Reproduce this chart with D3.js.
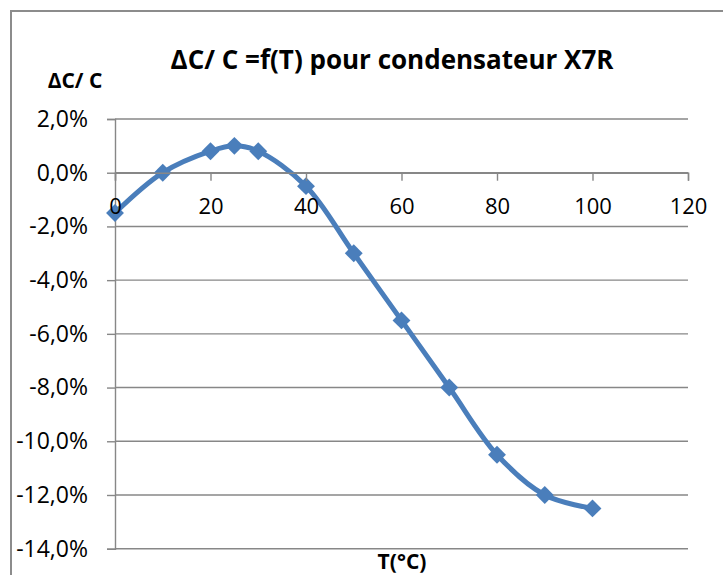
<!DOCTYPE html>
<html>
<head>
<meta charset="utf-8">
<script src="https://cdn.jsdelivr.net/npm/d3@7"></script>
<style>
  html, body { margin: 0; padding: 0; background: #fff; }
  svg { display: block; }
  text { font-family: "Open Sans", "Liberation Sans", sans-serif; fill: #000; }
</style>
</head>
<body>
<svg id="chart" width="723" height="575"></svg>
<script>
// Temperature (°C) and relative capacitance drift ΔC/C for an X7R capacitor
const temperatures = [0, 10, 20, 25, 30, 40, 50, 60, 70, 80, 90, 100];
const deltaC = [-0.015, 0.0, 0.008, 0.010, 0.008, -0.005, -0.030, -0.055, -0.080, -0.105, -0.120, -0.125];
const xTicks = [0, 20, 40, 60, 80, 100, 120];
const yTicks = [0.02, 0.0, -0.02, -0.04, -0.06, -0.08, -0.10, -0.12, -0.14];

const titleText = "ΔC/ C =f(T) pour condensateur X7R";
const yTitle = "ΔC/ C";
const xTitle = "T(°C)";

const svg = d3.select("#chart");
const gridColor = "#878787";
const lineColor = "#4a7ebb";

const x = d3.scaleLinear().domain([0, 120]).range([115, 688]);
const y = d3.scaleLinear().domain([-0.14, 0.02]).range([548.7, 119]);

const fmtPct = v => (v * 100).toFixed(1).replace(".", ",").replace("-0,0", "0,0") + "%";

// chart frame (only top and left edges fall inside the page)
svg.append("path")
  .attr("d", "M11,575 V11 H723")
  .attr("fill", "none")
  .attr("stroke", "#8c8c8c")
  .attr("stroke-width", 2);

// horizontal gridlines
svg.append("g")
  .selectAll("line")
  .data(yTicks)
  .join("line")
  .attr("x1", x(0)).attr("x2", x(120))
  .attr("y1", d => y(d)).attr("y2", d => y(d))
  .attr("stroke", gridColor)
  .attr("stroke-width", 1.4);

// vertical axis
const yAxis = svg.append("g")
  .attr("transform", `translate(${x(0)},0)`)
  .call(d3.axisLeft(y).tickValues(yTicks).tickSize(8).tickPadding(19).tickFormat(fmtPct));
yAxis.select(".domain").attr("stroke", gridColor).attr("stroke-width", 1.4);
yAxis.selectAll(".tick line").attr("stroke", gridColor).attr("stroke-width", 1.4);
yAxis.selectAll("text").style("font-size", "23px").style("font-family", "'Open Sans', sans-serif").attr("fill", "#000");

// series: smoothed line with diamond markers
const pts = temperatures.map((t, i) => [t, deltaC[i]]);
const line = d3.line()
  .x(d => x(d[0]))
  .y(d => y(d[1]))
  .curve(d3.curveCatmullRom.alpha(0.5));

svg.append("path")
  .datum(pts)
  .attr("d", line)
  .attr("fill", "none")
  .attr("stroke", lineColor)
  .attr("stroke-width", 5)
  .attr("stroke-linejoin", "round")
  .attr("stroke-linecap", "round");

const diamond = d3.symbol().type(d3.symbolSquare).size(160);
svg.append("g")
  .selectAll("path")
  .data(pts)
  .join("path")
  .attr("d", diamond)
  .attr("transform", d => `translate(${x(d[0])},${y(d[1])}) rotate(45)`)
  .attr("fill", lineColor);

// horizontal axis across the zero line, drawn over the series
const xAxis = svg.append("g")
  .attr("transform", `translate(0,${y(0)})`)
  .call(d3.axisBottom(x).tickValues(xTicks).tickSize(8).tickPadding(18).tickFormat(d3.format("d")));
xAxis.select(".domain").attr("stroke", gridColor).attr("stroke-width", 1.4);
xAxis.selectAll(".tick line").attr("stroke", gridColor).attr("stroke-width", 1.4);
xAxis.selectAll("text").style("font-size", "22px").style("font-family", "'Open Sans', sans-serif").attr("fill", "#000");

// titles
svg.append("text")
  .attr("x", 392).attr("y", 69)
  .attr("text-anchor", "middle")
  .style("font-size", "26px").style("font-weight", "bold")
  .text(titleText);

svg.append("text")
  .attr("x", 75).attr("y", 88)
  .attr("text-anchor", "middle")
  .style("font-size", "21px").style("font-weight", "bold")
  .text(yTitle);

svg.append("text")
  .attr("x", 402).attr("y", 569)
  .attr("text-anchor", "middle")
  .style("font-size", "21px").style("font-weight", "bold")
  .text(xTitle);
</script>
</body>
</html>
